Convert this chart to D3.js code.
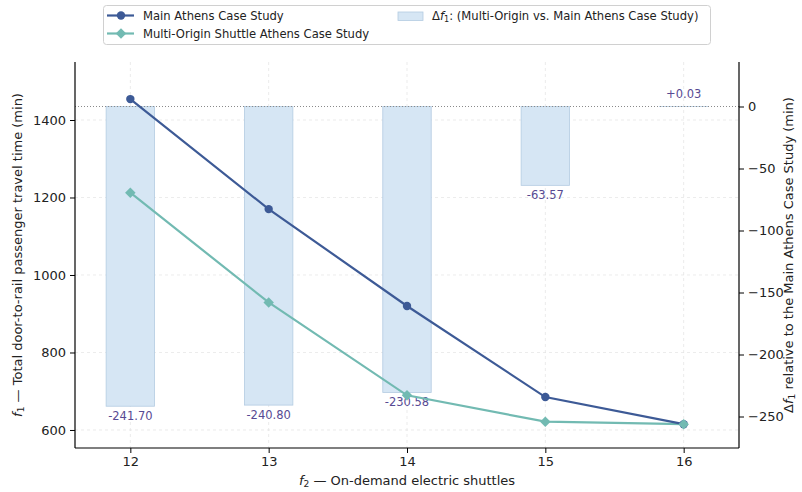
<!DOCTYPE html>
<html><head><meta charset="utf-8">
<script src="https://cdn.jsdelivr.net/npm/d3@7"></script>
<style>body{margin:0;background:#fff}svg{font-family:"DejaVu Sans",sans-serif}</style>
</head><body><svg id="c" width="802" height="492"></svg>
<script>
const shuttles = [12, 13, 14, 15, 16];
const mainAthens = [1454, 1170, 920, 685, 615];
const multiOrigin = [1212.3, 929.2, 689.42, 621.43, 615.03];
const deltas = [-241.70, -240.80, -230.58, -63.57, 0.03];
const deltaLabels = ["-241.70", "-240.80", "-230.58", "-63.57", "+0.03"];
const leftTicks = [600, 800, 1000, 1200, 1400];
const rightTicks = [0, -50, -100, -150, -200, -250];

const svg = d3.select("#c");
const L = 75, R = 739, T = 62, B = 448;
const x = d3.scaleLinear().domain([11.6, 16.4]).range([L, R]);
const y = d3.scaleLinear().domain([553.5, 1549.7]).range([B, T]);
const y2 = d3.scaleLinear().domain([-275.4, 35.9]).range([B, T]);

const cMain = "#3d5a96", cMulti = "#72bab2", cLab = "#574a93";

// grid
const g = svg.append("g");
g.selectAll(".vx").data(shuttles).join("line")
  .attr("x1", d => x(d)).attr("x2", d => x(d)).attr("y1", T).attr("y2", B)
  .attr("stroke", "#e3e3e3").attr("stroke-width", 0.7).attr("stroke-dasharray", "3,3");
g.selectAll(".hy").data(leftTicks).join("line")
  .attr("x1", L).attr("x2", R).attr("y1", d => y(d)).attr("y2", d => y(d))
  .attr("stroke", "#e3e3e3").attr("stroke-width", 0.7).attr("stroke-dasharray", "3,3");

// bars
const bw = 0.35;
svg.append("g").selectAll("rect").data(shuttles).join("rect")
  .attr("x", d => x(d - bw / 2)).attr("width", x(bw) - x(0))
  .attr("y", (d, i) => y2(Math.max(0, deltas[i])))
  .attr("height", (d, i) => Math.abs(y2(deltas[i]) - y2(0)))
  .attr("fill", "#d6e6f4").attr("stroke", "#b3cbe2").attr("stroke-width", 0.8);

// zero line
svg.append("line").attr("x1", L).attr("x2", R).attr("y1", y2(0)).attr("y2", y2(0))
  .attr("stroke", "#8a8a8a").attr("stroke-width", 1).attr("stroke-dasharray", "1,2");

// bar labels
svg.append("g").selectAll("text").data(shuttles).join("text")
  .attr("x", d => x(d))
  .attr("y", (d, i) => deltas[i] < 0 ? y2(deltas[i]) + 14 : y2(deltas[i]) - 8)
  .attr("text-anchor", "middle").attr("font-size", 11.5).attr("fill", cLab)
  .text((d, i) => deltaLabels[i]);

// lines
const line = vals => d3.line().x((d, i) => x(shuttles[i])).y(d => y(d))(vals);
svg.append("path").attr("d", line(multiOrigin)).attr("fill", "none")
  .attr("stroke", cMulti).attr("stroke-width", 2.2);
svg.append("path").attr("d", line(mainAthens)).attr("fill", "none")
  .attr("stroke", cMain).attr("stroke-width", 2.2);
svg.append("g").selectAll("circle").data(mainAthens).join("circle")
  .attr("cx", (d, i) => x(shuttles[i])).attr("cy", d => y(d)).attr("r", 4.2).attr("fill", cMain);
const dia = d3.symbol().type(d3.symbolDiamond2).size(70);
svg.append("g").selectAll("path").data(multiOrigin).join("path")
  .attr("transform", (d, i) => `translate(${x(shuttles[i])},${y(d)})`)
  .attr("d", dia).attr("fill", cMulti);

// axes
const fs = 13;
const ax = svg.append("g").attr("transform", `translate(0,${B})`)
  .call(d3.axisBottom(x).tickValues(shuttles).tickSize(5).tickPadding(4).tickFormat(d3.format("d")));
const ay = svg.append("g").attr("transform", `translate(${L},0)`)
  .call(d3.axisLeft(y).tickValues(leftTicks).tickSize(5).tickPadding(4).tickFormat(d3.format("d")));
const ay2 = svg.append("g").attr("transform", `translate(${R},0)`)
  .call(d3.axisRight(y2).tickValues(rightTicks).tickSize(5).tickPadding(4)
    .tickFormat(d => d < 0 ? "\u2212" + Math.abs(d) : d));
[ax, ay, ay2].forEach(a => {
  a.select(".domain").attr("stroke", "#000").attr("stroke-width", 1.2);
  a.selectAll(".tick line").attr("stroke", "#000").attr("stroke-width", 1);
  a.selectAll(".tick text").attr("font-size", fs).attr("fill", "#222").attr("font-family", "DejaVu Sans");
});
ax.select(".domain").attr("d", `M${L},0H${R}`);
ay.select(".domain").attr("d", `M0,${T}V${B}`);
ay2.select(".domain").attr("d", `M0,${T}V${B}`);

// axis labels
function label(t, parts) {
  parts.forEach(p => {
    const s = t.append("tspan").text(p.t);
    if (p.i) s.attr("font-style", "italic");
    if (p.sub) s.attr("font-size", "0.7em").attr("dy", "0.25em");
    else if (p.after) s.attr("dy", "-0.175em");
  });
}
const xl = svg.append("text").attr("x", (L + R) / 2).attr("y", 485).attr("text-anchor", "middle")
  .attr("font-size", fs).attr("fill", "#222");
label(xl, [{t: "f", i: 1}, {t: "2", sub: 1}, {t: " \u2014 On-demand electric shuttles", after: 1}]);
const yl = svg.append("text").attr("transform", `translate(22,${(T + B) / 2}) rotate(-90)`)
  .attr("text-anchor", "middle").attr("font-size", fs).attr("fill", "#222");
label(yl, [{t: "f", i: 1}, {t: "1", sub: 1}, {t: " \u2014 Total door-to-rail passenger travel time (min)", after: 1}]);
const yr = svg.append("text").attr("transform", `translate(793,${(T + B) / 2}) rotate(-90)`)
  .attr("text-anchor", "middle").attr("font-size", fs).attr("fill", "#222");
label(yr, [{t: "\u0394"}, {t: "f", i: 1}, {t: "1", sub: 1}, {t: " relative to the Main Athens Case Study (min)", after: 1}]);

// legend
const lg = svg.append("g");
lg.append("rect").attr("x", 103.5).attr("y", 5.5).attr("width", 607).attr("height", 39).attr("rx", 3)
  .attr("fill", "#fff").attr("stroke", "#d0d0d0");
const lf = 11.6;
[[mainAthens, cMain, "Main Athens Case Study", 15.5, "c"], [multiOrigin, cMulti, "Multi-Origin Shuttle Athens Case Study", 33.5, "d"]]
  .forEach(([, c, t, yy, m]) => {
    lg.append("line").attr("x1", 107).attr("x2", 134).attr("y1", yy).attr("y2", yy).attr("stroke", c).attr("stroke-width", 2.2);
    if (m === "c") lg.append("circle").attr("cx", 121).attr("cy", yy).attr("r", 4.2).attr("fill", c);
    else lg.append("path").attr("transform", `translate(121,${yy})`).attr("d", dia).attr("fill", c);
    lg.append("text").attr("x", 143).attr("y", yy + 4.3).attr("font-size", lf).attr("fill", "#222").text(t);
  });
lg.append("rect").attr("x", 398).attr("y", 12).attr("width", 25).attr("height", 8.5)
  .attr("fill", "#d6e6f4").attr("stroke", "#b3cbe2").attr("stroke-width", 0.8);
const lt = lg.append("text").attr("x", 432).attr("y", 19.8).attr("font-size", lf).attr("fill", "#222");
label(lt, [{t: "\u0394"}, {t: "f", i: 1}, {t: "1", sub: 1}, {t: ": (Multi-Origin vs. Main Athens Case Study)", after: 1}]);
</script></body></html>
